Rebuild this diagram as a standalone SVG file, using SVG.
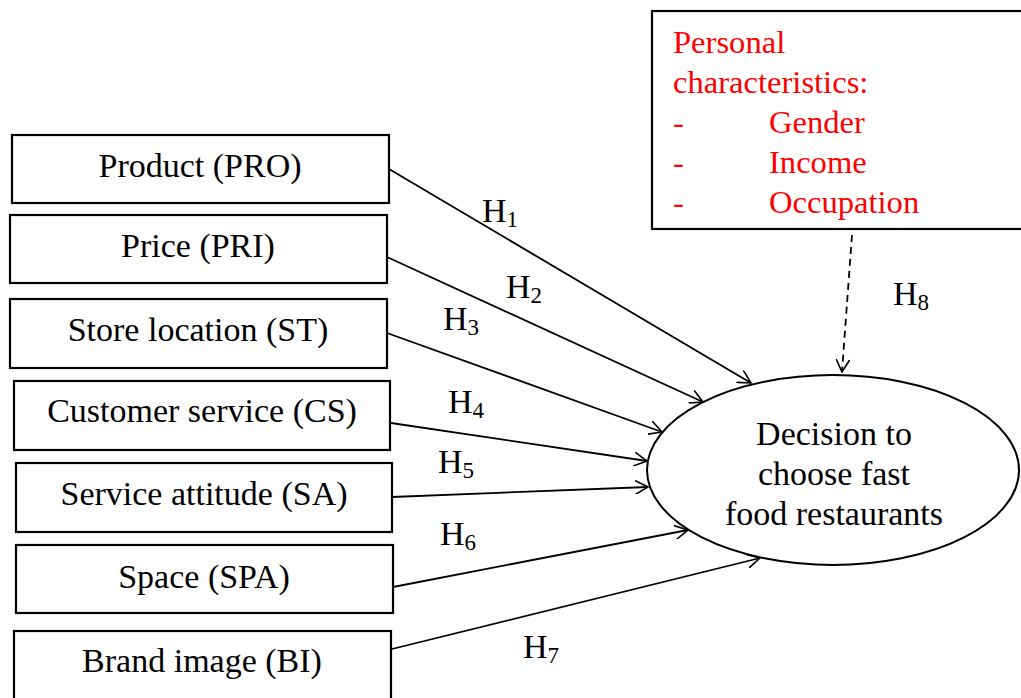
<svg xmlns="http://www.w3.org/2000/svg" width="1021" height="698" viewBox="0 0 1021 698">
<style>
text{font-family:"Liberation Serif","Times New Roman",serif;font-size:34px;fill:#000}
.box{fill:#fff;stroke:#000;stroke-width:2.2}
.lbl{text-anchor:middle}
.red{fill:#ff0000;font-size:32.6px}
.sub{font-size:23px}
.con{stroke:#000;stroke-width:1.8;fill:none;marker-end:url(#arr)}
.dash{stroke-dasharray:7 5}
</style>
<defs>
<marker id="arr" viewBox="0 0 14 14" refX="13" refY="7" markerWidth="14" markerHeight="14" markerUnits="userSpaceOnUse" orient="auto">
<path d="M0,0 L13,7 L0,14" fill="none" stroke="#000" stroke-width="1.6"/>
</marker>
</defs>
<g id="connectors">
<line class="con" x1="389" y1="169" x2="751" y2="383"/>
<line class="con" x1="387" y1="257" x2="703" y2="402"/>
<line class="con" x1="387" y1="333" x2="662" y2="432"/>
<line class="con" x1="391" y1="423" x2="647" y2="461"/>
<line class="con" x1="392" y1="497" x2="648" y2="487"/>
<line class="con" x1="393" y1="587" x2="688" y2="530"/>
<line class="con" x1="392" y1="649" x2="760" y2="558"/>
<line class="con dash" x1="852" y1="235" x2="842" y2="372"/>
<text x="482" y="222">H<tspan class="sub" dy="5">1</tspan></text>
<text x="506" y="298">H<tspan class="sub" dy="5">2</tspan></text>
<text x="443" y="330">H<tspan class="sub" dy="5">3</tspan></text>
<text x="448" y="413">H<tspan class="sub" dy="5">4</tspan></text>
<text x="438" y="473">H<tspan class="sub" dy="5">5</tspan></text>
<text x="440" y="545">H<tspan class="sub" dy="5">6</tspan></text>
<text x="523" y="658">H<tspan class="sub" dy="5">7</tspan></text>
<text x="893" y="305">H<tspan class="sub" dy="5">8</tspan></text>
</g>
<g id="product">
<rect class="box" x="12" y="135" width="377" height="68"/>
<text class="lbl" x="200" y="177">Product (PRO)</text>
</g>
<g id="price">
<rect class="box" x="10" y="215" width="377" height="68"/>
<text class="lbl" x="198" y="257">Price (PRI)</text>
</g>
<g id="store">
<rect class="box" x="10" y="299" width="377" height="69"/>
<text class="lbl" x="198" y="341">Store location (ST)</text>
</g>
<g id="customer">
<rect class="box" x="14" y="381" width="376" height="69"/>
<text class="lbl" x="202" y="422">Customer service (CS)</text>
</g>
<g id="attitude">
<rect class="box" x="16" y="463" width="376" height="69"/>
<text class="lbl" x="204" y="505">Service attitude (SA)</text>
</g>
<g id="space">
<rect class="box" x="16" y="545" width="377" height="68"/>
<text class="lbl" x="204" y="588">Space (SPA)</text>
</g>
<g id="brand">
<rect class="box" x="14" y="631" width="377" height="70"/>
<text class="lbl" x="202" y="672">Brand image (BI)</text>
</g>
<g id="decision">
<ellipse cx="833" cy="470" rx="186" ry="95" fill="#fff" stroke="#000" stroke-width="2"/>
<text class="lbl" x="834" y="445">Decision to</text>
<text class="lbl" x="834" y="485">choose fast</text>
<text class="lbl" x="834" y="525">food restaurants</text>
</g>
<g id="personal">
<rect class="box" x="652" y="11" width="372" height="218"/>
<text class="red" x="673" y="53">Personal</text>
<text class="red" x="673" y="93">characteristics:</text>
<text class="red" x="673" y="133">-</text>
<text class="red" x="769" y="133">Gender</text>
<text class="red" x="673" y="173">-</text>
<text class="red" x="769" y="173">Income</text>
<text class="red" x="673" y="213">-</text>
<text class="red" x="769" y="213">Occupation</text>
</g>
</svg>
